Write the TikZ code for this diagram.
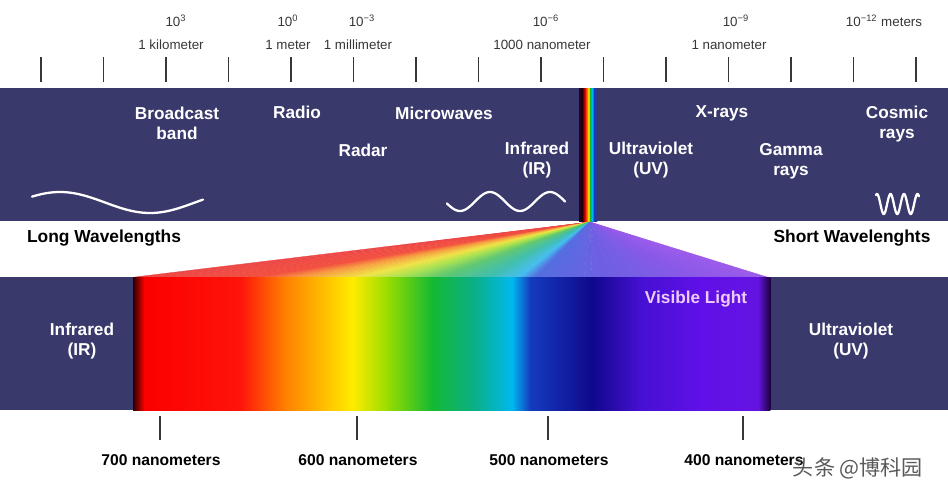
\documentclass[tikz,border=0pt]{standalone}
\usepackage{fontspec}
\setmainfont{Liberation Sans}
\newfontfamily\cjkfont{Noto Sans CJK SC}
\usetikzlibrary{positioning}

\definecolor{bandnavy}{RGB}{58,57,108}
\definecolor{scalegray}{RGB}{55,55,55}
\definecolor{vislabel}{RGB}{238,204,250}
% spectrum stops (bottom band)
\definecolor{spA}{RGB}{40,0,0}
\definecolor{spB}{RGB}{250,0,0}
\definecolor{spC}{RGB}{255,20,10}
\definecolor{spD}{RGB}{255,128,0}
\definecolor{spE}{RGB}{255,236,0}
\definecolor{spF}{RGB}{150,220,0}
\definecolor{spG}{RGB}{20,185,50}
\definecolor{spH}{RGB}{10,176,130}
\definecolor{spI}{RGB}{0,184,240}
\definecolor{spJ}{RGB}{20,60,190}
\definecolor{spK}{RGB}{16,8,140}
\definecolor{spL}{RGB}{70,16,210}
\definecolor{spM}{RGB}{96,16,232}
\definecolor{spN}{RGB}{100,20,225}
\definecolor{spO}{RGB}{30,0,60}
% fan stops (pastel)
\definecolor{fnA}{RGB}{236,70,70}
\definecolor{fnB}{RGB}{242,80,64}
\definecolor{fnC}{RGB}{248,150,64}
\definecolor{fnD}{RGB}{240,228,70}
\definecolor{fnE}{RGB}{170,226,80}
\definecolor{fnF}{RGB}{96,200,112}
\definecolor{fnG}{RGB}{64,190,176}
\definecolor{fnH}{RGB}{70,190,240}
\definecolor{fnI}{RGB}{84,110,224}
\definecolor{fnJ}{RGB}{108,96,226}
\definecolor{fnK}{RGB}{140,88,232}
\definecolor{fnL}{RGB}{156,90,234}

\tikzset{
  bandtext/.style={text=white,font=\fontsize{9.8}{11.3}\selectfont\bfseries,align=center,inner sep=0pt},
  sidetext/.style={text=black,font=\fontsize{9.9}{11}\selectfont\bfseries,inner sep=0pt},
  scaletext/.style={text=scalegray,font=\fontsize{7.6}{8.5}\selectfont,inner sep=0pt},
  nmtext/.style={text=black,font=\fontsize{8.9}{10}\selectfont\bfseries,inner sep=0pt},
  scaletick/.style={scalegray,line width=1.1pt},
  wave/.style={white,line width=1.3pt,line cap=round,line join=round}
}

\begin{document}
\begin{tikzpicture}[x=0.02cm,y=-0.02cm]
    \useasboundingbox (0,0) rectangle (948,498);
    % --- scale on top
    \foreach \i in {0,...,14} {
      \pgfmathsetmacro{\xx}{41+62.5*\i}
      \draw[scaletick] (\xx,57) -- (\xx,82);
    }
    \node[scaletext] (e3) at (176,21) {10\textsuperscript{3}};
    \node[scaletext] (km) at (171,45) {1 kilometer};
    \node[scaletext] (e0) at (288,21) {10\textsuperscript{0}};
    \node[scaletext] (m) at (288,45) {1 meter};
    \node[scaletext] (em3) at (362,21) {10\textsuperscript{−3}};
    \node[scaletext] (mm) at (358,45) {1 millimeter};
    \node[scaletext] (em6) at (546,21) {10\textsuperscript{−6}};
    \node[scaletext] (um) at (542,45) {1000 nanometer};
    \node[scaletext] (em9) at (736,21) {10\textsuperscript{−9}};
    \node[scaletext] (nm) at (729,45) {1 nanometer};
    \node[scaletext] (em12) at (884,21) {10\textsuperscript{−12} meters};

    % --- fan of light from the prism
    \coordinate (apex) at (590,222);
    \foreach \xa/\ca/\xb/\cb in {135/fnA/260/fnB, 260/fnB/300/fnC, 300/fnC/360/fnD,
        360/fnD/400/fnE, 400/fnE/440/fnF, 440/fnF/490/fnG, 490/fnG/520/fnH,
        520/fnH/536/fnI, 536/fnI/600/fnJ, 600/fnJ/700/fnK, 700/fnK/767/fnL} {
      \foreach \j in {0,...,7} {
        \pgfmathsetmacro{\u}{\xa+(\xb-\xa)*\j/8}
        \pgfmathsetmacro{\v}{\xa+(\xb-\xa)*(\j+1)/8}
        \pgfmathsetmacro{\p}{100-(\j+0.5)*12.5}
        \filldraw[fill=\ca!\p!\cb,draw=\ca!\p!\cb,line width=0.2pt]
          (apex) -- (\u,277) -- (\v,277) -- cycle;
      }
    }

    % --- top band
    \fill[bandnavy] (0,88) rectangle (948,221);
    \foreach \xa/\ca/\xb/\cb in {579/spO/582/spA, 582/spA/585/spB, 585/spB/587/spD,
        587/spD/588.5/spE, 588.5/spE/590/spG, 590/spG/592/spI, 592/spI/594/spJ,
        594/spJ/597/bandnavy} {
      \shade[left color=\ca,right color=\cb] (\xa,88) rectangle (\xb+0.3,221);
    }
    \node[bandtext] (broadcast) at (177,123) {Broadcast\\band};
    \node[bandtext] (radio) at (297,112) {Radio};
    \node[bandtext] (microwaves) at (444,113) {Microwaves};
    \node[bandtext] (radar) at (363,150) {Radar};
    \node[bandtext] (irtop) at (537,160) {Infrared\\(IR)};
    \node[bandtext] (uvtop) at (651,160) {Ultraviolet\\(UV)};
    \node[bandtext] (xrays) at (722,113) {X-rays};
    \node[bandtext] (gamma) at (791,161) {Gamma\\rays};
    \node[bandtext] (cosmic) at (897,124) {Cosmic\\rays};
    \draw[wave] plot[domain=32:203,samples=60] (\x,{202.5-10.5*cos(2*(\x-60))});
    \draw[wave] plot[domain=447:565,samples=60] (\x,{201.5-9.5*cos(6*(\x-490))});
    \draw[wave] plot[domain=876:919,samples=120] (\x,{204-10*cos(26.67*(\x-877))});

    \node[sidetext] (longwl) at (104,238) {Long Wavelengths};
    \node[sidetext] (shortwl) at (852,238) {Short Wavelenghts};

    % --- bottom band with the visible spectrum
    \fill[bandnavy] (0,277) rectangle (948,410);
    \foreach \xa/\ca/\xb/\cb in {133/spA/144/spB, 144/spB/240/spC, 240/spC/285/spD,
        285/spD/352/spE, 352/spE/388/spF, 388/spF/432/spG, 432/spG/472/spH,
        472/spH/512/spI, 512/spI/530/spJ, 530/spJ/592/spK, 592/spK/640/spL,
        640/spL/700/spM, 700/spM/758/spN, 758/spN/770/spO} {
      \shade[left color=\ca,right color=\cb] (\xa,277) rectangle (\xb+0.3,410);
    }
    \node[bandtext] (irbot) at (82,341) {Infrared\\(IR)};
    \node[bandtext] (uvbot) at (851,341) {Ultraviolet\\(UV)};
    \node[bandtext,text=vislabel] (visible) at (696,299) {Visible Light};

    % --- wavelengths below
    \foreach \xx/\lab in {160/700, 357/600, 548/500, 743/400} {
      \draw[scaletick] (\xx,416) -- (\xx,440);
      \node[nmtext] (nm\lab) at (\xx+1,460) {\lab{} nanometers};
    }
    \node[text=black!65,font=\cjkfont\fontsize{12}{14}\selectfont,inner sep=0pt]
      (watermark) at (858,468) {头条 @博科园};
\end{tikzpicture}
\end{document}
